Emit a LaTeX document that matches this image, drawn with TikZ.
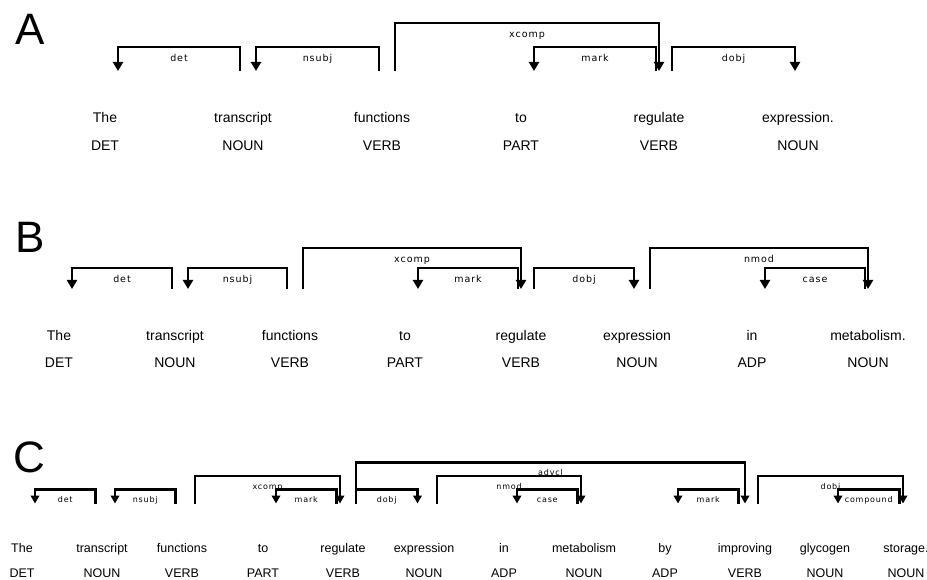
\documentclass[tikz,border=0pt]{standalone}
\usepackage{fontspec}
\setmainfont{Liberation Sans}
\newfontfamily\lblfont[LetterSpace=10]{DejaVu Sans}
\usetikzlibrary{arrows.meta}

\begin{document}
\begin{tikzpicture}[x=1pt,y=-1pt,
  word/.style={anchor=base,inner sep=0pt,font=\fontsize{14}{14}\selectfont},
  panel/.style={anchor=base west,inner sep=0pt,font=\fontsize{44}{44}\selectfont},
  arc/.style={line width=2.9pt},
  tipl/.style={{Triangle[width=10pt,length=9pt]}-},
  tipr/.style={-{Triangle[width=10pt,length=9pt]}},
  lbl/.style={pos=.25,anchor=base,yshift=-15pt,inner sep=0pt,
    font=\lblfont\fontsize{9.5}{9.5}\selectfont}]
\useasboundingbox (0,0) rectangle (927,580);

% panel A
\node[panel] (pa) at (15,45) {A};
\foreach \x/\w/\p [count=\i] in {105/The/DET, 243/transcript/NOUN,
    382/functions/VERB, 521/to/PART, 659/regulate/VERB, 798/expression./NOUN} {
  \node[word] (aw\i) at (\x,123) {\w};
  \node[word] (ap\i) at (\x,151) {\p};
  \coordinate (af\i) at (\x,71);
}
\draw[arc,tipl] ([xshift=13pt]af1) -- ++(0,-24) -| ([xshift=-3pt]af2) node[lbl]{det};
\draw[arc,tipl] ([xshift=13pt]af2) -- ++(0,-24) -| ([xshift=-3pt]af3) node[lbl]{nsubj};
\draw[arc,tipr] ([xshift=13pt]af3) -- ++(0,-48) -| (af5) node[lbl]{xcomp};
\draw[arc,tipl] ([xshift=13pt]af4) -- ++(0,-24) -| ([xshift=-3pt]af5) node[lbl]{mark};
\draw[arc,tipr] ([xshift=13pt]af5) -- ++(0,-24) -| ([xshift=-3pt]af6) node[lbl]{dobj};

% panel B
\node[panel] (pb) at (15,253) {B};
\foreach \x/\w/\p [count=\i] in {59/The/DET, 175/transcript/NOUN,
    290/functions/VERB, 405/to/PART, 521/regulate/VERB, 637/expression/NOUN,
    752/in/ADP, 868/metabolism./NOUN} {
  \node[word] (bw\i) at (\x,340) {\w};
  \node[word] (bp\i) at (\x,367) {\p};
  \coordinate (bf\i) at (\x,289);
}
\draw[arc,tipl] ([xshift=13pt]bf1) -- ++(0,-21) -| ([xshift=-3pt]bf2) node[lbl]{det};
\draw[arc,tipl] ([xshift=13pt]bf2) -- ++(0,-21) -| ([xshift=-3pt]bf3) node[lbl]{nsubj};
\draw[arc,tipr] ([xshift=13pt]bf3) -- ++(0,-41) -| (bf5) node[lbl]{xcomp};
\draw[arc,tipl] ([xshift=13pt]bf4) -- ++(0,-21) -| ([xshift=-3pt]bf5) node[lbl]{mark};
\draw[arc,tipr] ([xshift=13pt]bf5) -- ++(0,-21) -| ([xshift=-3pt]bf6) node[lbl]{dobj};
\draw[arc,tipr] ([xshift=13pt]bf6) -- ++(0,-41) -| (bf8) node[lbl]{nmod};
\draw[arc,tipl] ([xshift=13pt]bf7) -- ++(0,-21) -| ([xshift=-3pt]bf8) node[lbl]{case};

% panel C
\begin{scope}[word/.append style={font=\fontsize{12.5}{12.5}\selectfont},
  arc/.append style={line width=2.5pt},
  tipl/.style={{Triangle[width=8.5pt,length=8pt]}-},
  tipr/.style={-{Triangle[width=8.5pt,length=8pt]}},
  lbl/.append style={yshift=2pt,font=\lblfont\fontsize{8}{8}\selectfont}]
\node[panel] (pc) at (13,472) {C};
\foreach \x/\w/\p [count=\i] in {22/The/DET, 102/transcript/NOUN,
    182/functions/VERB, 263/to/PART, 343/regulate/VERB, 424/expression/NOUN,
    504/in/ADP, 584/metabolism/NOUN, 665/by/ADP, 745/improving/VERB,
    825/glycogen/NOUN, 906/storage./NOUN} {
  \node[word] (cw\i) at (\x,552.5) {\w};
  \node[word] (cp\i) at (\x,577) {\p};
  \coordinate (cf\i) at (\x,503.5);
}
\draw[arc,tipl] ([xshift=13pt]cf1) -- ++(0,-14) -| ([xshift=-6.5pt]cf2) node[lbl]{det};
\draw[arc,tipl] ([xshift=13pt]cf2) -- ++(0,-14) -| ([xshift=-6.5pt]cf3) node[lbl]{nsubj};
\draw[arc,tipr] ([xshift=13pt]cf3) -- ++(0,-27.5) -| ([xshift=-3pt]cf5) node[lbl]{xcomp};
\draw[arc,tipl] ([xshift=13pt]cf4) -- ++(0,-14) -| ([xshift=-6.5pt]cf5) node[lbl]{mark};
\draw[arc,tipr] ([xshift=13pt]cf5) -- ++(0,-41) -| (cf10) node[lbl]{advcl};
\draw[arc,tipr] ([xshift=13pt]cf5) -- ++(0,-14) -| ([xshift=-6.5pt]cf6) node[lbl]{dobj};
\draw[arc,tipr] ([xshift=13pt]cf6) -- ++(0,-27.5) -| ([xshift=-3pt]cf8) node[lbl]{nmod};
\draw[arc,tipl] ([xshift=13pt]cf7) -- ++(0,-14) -| ([xshift=-6.5pt]cf8) node[lbl]{case};
\draw[arc,tipl] ([xshift=13pt]cf9) -- ++(0,-14) -| ([xshift=-6.5pt]cf10) node[lbl]{mark};
\draw[arc,tipr] ([xshift=13pt]cf10) -- ++(0,-27.5) -| ([xshift=-3pt]cf12) node[lbl]{dobj};
\draw[arc,tipl] ([xshift=13pt]cf11) -- ++(0,-14) -| ([xshift=-6.5pt]cf12) node[lbl]{compound};
\end{scope}
\end{tikzpicture}
\end{document}
